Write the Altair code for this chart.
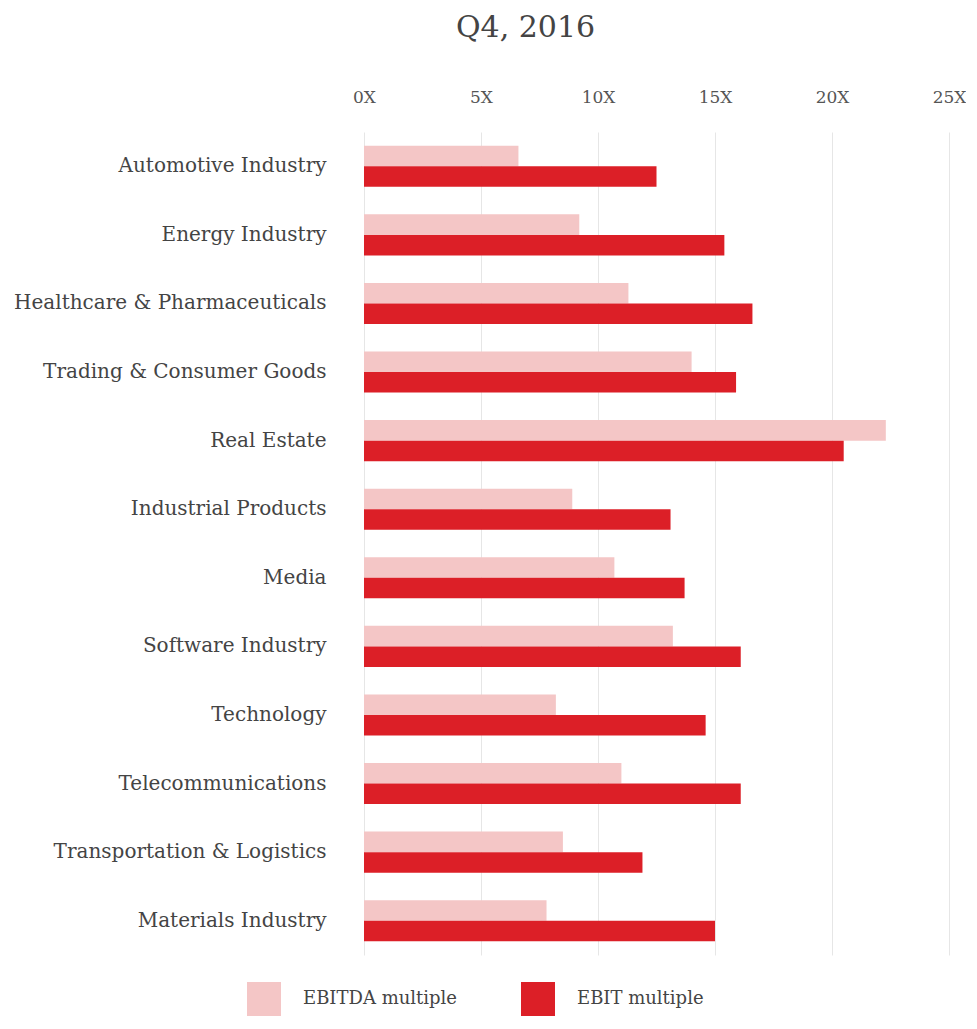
import altair as alt
import pandas as pd

categories = [
    "Automotive Industry", "Energy Industry", "Healthcare & Pharmaceuticals",
    "Trading & Consumer Goods", "Real Estate", "Industrial Products", "Media",
    "Software Industry", "Technology", "Telecommunications",
    "Transportation & Logistics", "Materials Industry",
]
ebitda = [6.6, 9.2, 11.3, 14.0, 22.3, 8.9, 10.7, 13.2, 8.2, 11.0, 8.5, 7.8]
ebit = [12.5, 15.4, 16.6, 15.9, 20.5, 13.1, 13.7, 16.1, 14.6, 16.1, 11.9, 15.0]
series = ["EBITDA multiple", "EBIT multiple"]
colors = ["#F4C6C6", "#DC1F27"]

rows = []
for c, a, b in zip(categories, ebitda, ebit):
    rows.append({"category": c, "series": series[0], "value": a})
    rows.append({"category": c, "series": series[1], "value": b})
df = pd.DataFrame(rows)

FONT = "DejaVu Serif"

chart = alt.Chart(df).mark_bar().encode(
    y=alt.Y("category:N", sort=categories, title=None,
            scale=alt.Scale(paddingInner=0.4, paddingOuter=0.2),
            axis=alt.Axis(domain=False, ticks=False, labelPadding=38,
                          labelFontSize=20, labelColor="#444", labelFont=FONT,
                          labelLimit=400)),
    yOffset=alt.YOffset("series:N", sort=series),
    x=alt.X("value:Q", title=None,
            scale=alt.Scale(domain=[0, 25]),
            axis=alt.Axis(orient="top", values=[0, 5, 10, 15, 20, 25],
                          labelExpr="datum.value + 'X'", domain=False, ticks=False,
                          labelFlush=False,
                          labelPadding=26, labelFontSize=17, labelColor="#555",
                          labelFont=FONT, gridColor="#E6E6E6", gridWidth=1)),
    color=alt.Color("series:N", sort=series,
                    scale=alt.Scale(domain=series, range=colors),
                    legend=alt.Legend(title=None, orient="none", direction="horizontal",
                                      legendX=-117, legendY=850,
                                      symbolType="square", symbolSize=1156,
                                      symbolStrokeWidth=0, symbolOpacity=1,
                                      labelFont=FONT, labelFontSize=18, labelColor="#444",
                                      labelOffset=22, columnPadding=64, labelLimit=300)),
).properties(
    width=585, height=823,
    padding={"left": 5, "top": 5, "right": 0, "bottom": 0},
    title=alt.TitleParams("Q4, 2016", font=FONT, fontSize=30, fontWeight="normal",
                          color="#444", anchor="middle", offset=45, dx=-131),
).configure_view(stroke=None)

chart.save("out.html", embed_options={"renderer": "svg", "actions": False})
